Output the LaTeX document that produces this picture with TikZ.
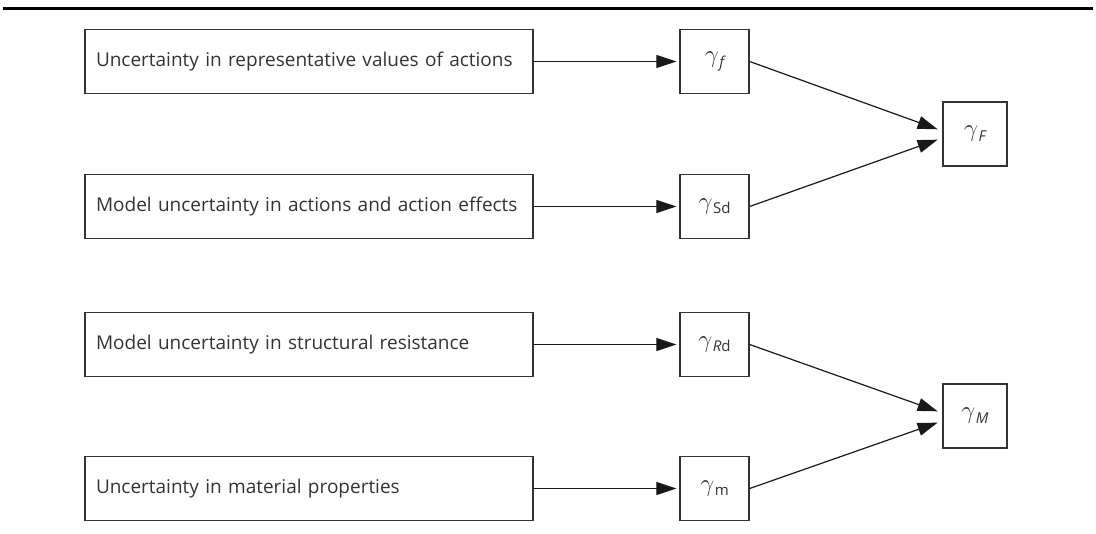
\documentclass[tikz,border=0pt]{standalone}
\usepackage{fontspec}
\setmainfont{Open Sans}
\usetikzlibrary{arrows.meta}
\definecolor{txt}{HTML}{333333}
\definecolor{ln}{HTML}{333333}
\newcommand{\gam}[1]{$\gamma$\kern0.5pt\raisebox{-4.5pt}{\fontsize{15}{17}\selectfont #1}}
\begin{document}
\begin{tikzpicture}[x=1pt,y=1pt,
  bigbox/.style={draw=ln, line width=1.3pt, minimum width=448pt, minimum height=64pt,
    text width=426pt, align=left, inner xsep=11pt, text=txt,
    font=\fontsize{19}{22}\selectfont},
  gbox/.style={draw=ln, line width=1.3pt, minimum width=69pt, minimum height=64pt, text=txt,
    font=\fontsize{23}{26}\selectfont},
  fbox/.style={draw=ln, line width=1.3pt, minimum width=64pt, minimum height=64pt, text=txt,
    font=\fontsize{23}{26}\selectfont},
  conn/.style={draw=black!90, line width=1.2pt, -{Triangle[length=20pt,width=13pt]}, shorten >=3pt}
]
\useasboundingbox (0,0) rectangle (1096,-534);
\draw[line width=2.2pt, black] (3,-8.5) -- (1093,-8.5);

\node[bigbox] (a1) at (309,-61.5) {Uncertainty in representative values of actions};
\node[bigbox] (a2) at (309,-206.5) {Model uncertainty in actions and action effects};
\node[bigbox] (b1) at (309,-344.5) {Model uncertainty in structural resistance};
\node[bigbox] (b2) at (309,-488.5) {Uncertainty in material properties};

\node[gbox] (gf) at (714.5,-61.5) {\gam{\itshape f}};
\node[gbox] (gsd) at (714.5,-206.5) {\gam{Sd}};
\node[gbox] (grd) at (714.5,-344.5) {\gam{\itshape R\upshape d}};
\node[gbox] (gm) at (714.5,-488.5) {\gam{m}};

\node[fbox] (gF) at (975,-134) {\gam{\itshape F}};
\node[fbox] (gM) at (975,-416) {\gam{\itshape M}};

\draw[conn] (a1) -- (gf);
\draw[conn] (a2) -- (gsd);
\draw[conn] (b1) -- (grd);
\draw[conn] (b2) -- (gm);

\draw[conn, shorten >=5pt] (gf.east) -- ([yshift=3pt]gF.west);
\draw[conn, shorten >=5pt] (gsd.east) -- ([yshift=-4pt]gF.west);
\draw[conn, shorten >=5pt] (grd.east) -- ([yshift=3pt]gM.west);
\draw[conn, shorten >=5pt] (gm.east) -- ([yshift=-5pt]gM.west);
\end{tikzpicture}
\end{document}
